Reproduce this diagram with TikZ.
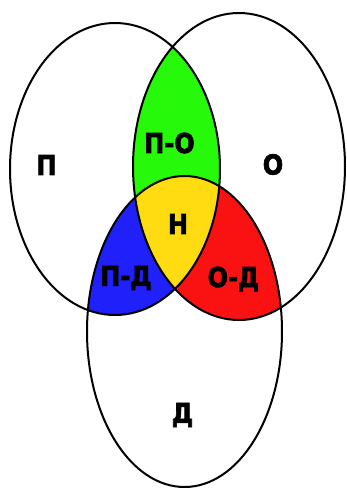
\documentclass[tikz,border=0pt]{standalone}
\usepackage{fontspec}
\setmainfont{DejaVu Sans}
\newfontfamily\labfont{DejaVu Sans Bold}[FakeBold=2.6]
\newcommand{\lbltxt}[1]{\scalebox{1}[1.14]{#1}}
\begin{document}
\begin{tikzpicture}[x=1pt,y=-1pt,
  lab/.style={font=\fontsize{24}{27}\labfont, inner sep=0pt, anchor=center},
  edge/.style={draw=black, line width=2pt}]
\fill[white] (0,0) rectangle (347,488);
\useasboundingbox (0,0) rectangle (347,488);
\def\pathP{(115,169) ellipse [x radius=105pt, y radius=146pt]}
\def\pathO{(239,166.5) ellipse [x radius=106pt, y radius=153.5pt]}
\def\pathD{(184.5,331.5) ellipse [x radius=97.5pt, y radius=155.5pt]}
% green: P and O
\begin{scope}
  \clip \pathP; \fill[fill={rgb,255:red,38;green,250;blue,10}] \pathO;
\end{scope}
% blue: P and D
\begin{scope}
  \clip \pathP; \fill[fill={rgb,255:red,32;green,32;blue,250}] \pathD;
\end{scope}
% red: O and D
\begin{scope}
  \clip \pathO; \fill[fill={rgb,255:red,250;green,18;blue,18}] \pathD;
\end{scope}
% yellow: all three
\begin{scope}
  \clip \pathP; \clip \pathO; \fill[fill={rgb,255:red,255;green,220;blue,18}] \pathD;
\end{scope}
\draw[edge] \pathP;
\draw[edge] \pathO;
\draw[edge] \pathD;
\node[lab] (lP) at (46.5,165) {\lbltxt{П}};
\node[lab] (lO) at (273,164.5) {\lbltxt{О}};
\node[lab] (lPO) at (169.5,143) {\lbltxt{П-О}};
\node[lab] (lN) at (178,224) {\lbltxt{Н}};
\node[lab] (lPD) at (126,278) {\lbltxt{П-Д}};
\node[lab] (lOD) at (233.5,279) {\lbltxt{О-Д}};
\node[lab] (lD) at (182.5,415) {\lbltxt{Д}};
\end{tikzpicture}
\end{document}
